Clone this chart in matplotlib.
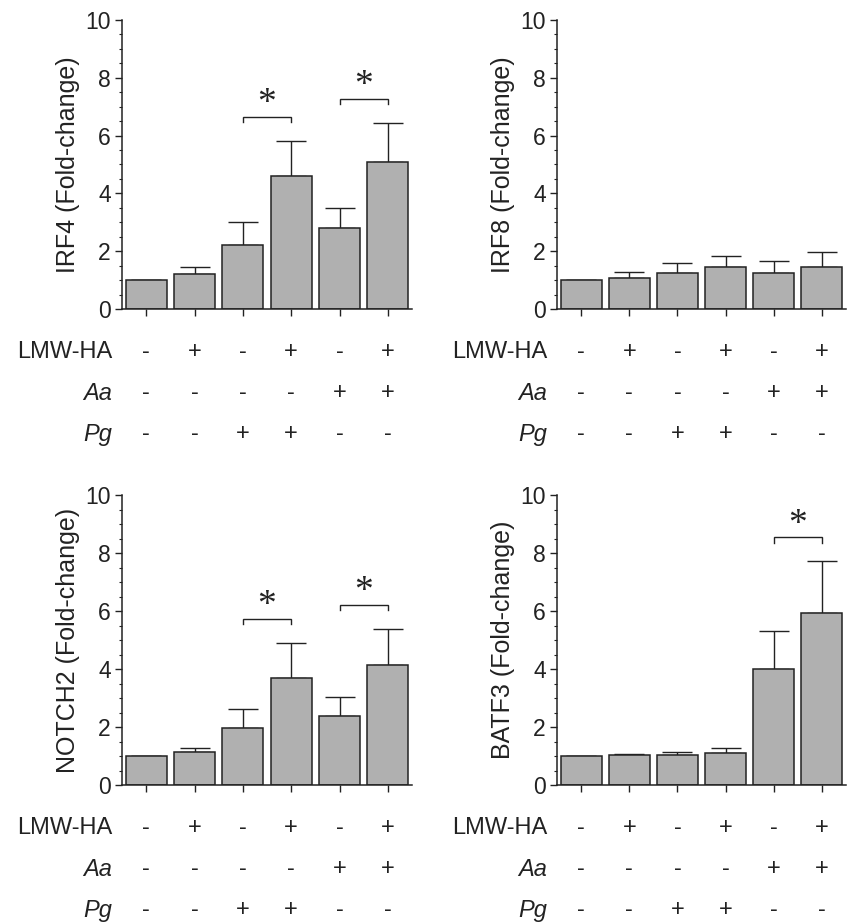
import numpy as np
import matplotlib
matplotlib.use("Agg")
import matplotlib.pyplot as plt
from matplotlib.ticker import MultipleLocator

plt.rcParams['font.family'] = ['Liberation Sans', 'DejaVu Sans']

# --- data ---
row_names = ['LMW-HA', 'Aa', 'Pg']
lmw_ha = ['-', '+', '-', '+', '-', '+']
aa = ['-', '-', '-', '-', '+', '+']
pg = ['-', '-', '+', '+', '-', '-']

irf4_mean = [1.0, 1.22, 2.22, 4.59, 2.79, 5.07]
irf4_err = [0.0, 0.25, 0.78, 1.21, 0.69, 1.36]
irf8_mean = [1.01, 1.08, 1.26, 1.44, 1.26, 1.47]
irf8_err = [0.0, 0.19, 0.34, 0.40, 0.39, 0.49]
notch2_mean = [1.0, 1.13, 1.97, 3.69, 2.38, 4.13]
notch2_err = [0.0, 0.13, 0.65, 1.21, 0.64, 1.25]
batf3_mean = [1.0, 1.03, 1.03, 1.10, 4.01, 5.94]
batf3_err = [0.0, 0.04, 0.11, 0.19, 1.31, 1.80]

# significance brackets: (bar a, bar b, bracket height)
irf4_sig = [(2, 3, 6.65), (4, 5, 7.28)]
irf8_sig = []
notch2_sig = [(2, 3, 5.74), (4, 5, 6.22)]
batf3_sig = [(4, 5, 8.54)]

panels = [
    ('IRF4 (Fold-change)', irf4_mean, irf4_err, irf4_sig),
    ('IRF8 (Fold-change)', irf8_mean, irf8_err, irf8_sig),
    ('NOTCH2 (Fold-change)', notch2_mean, notch2_err, notch2_sig),
    ('BATF3 (Fold-change)', batf3_mean, batf3_err, batf3_sig),
]

W, H = 847, 923
fig = plt.figure(figsize=(W / 100, H / 100), dpi=100)

# axes boxes in pixels: (left, top, right, bottom)
boxes = [(122, 20, 412, 309), (557, 20, 846, 309),
         (122, 495, 412, 785), (557, 495, 846, 785)]

ink = '#222222'
fill = '#b0b0b0'
x = np.arange(6)

for (label, mean, err, sig), (l, t, r, b) in zip(panels, boxes):
    ax = fig.add_axes([l / W, 1 - b / H, (r - l) / W, (b - t) / H])
    ax.bar(x, mean, width=0.85, color=fill, edgecolor=ink, linewidth=1.1, zorder=2)
    ax.errorbar(x, mean, yerr=[np.zeros(6), err], fmt='none', ecolor=ink,
                elinewidth=1.0, capsize=11, capthick=1.0, zorder=1)

    for a, c, h in sig:
        ax.plot([a, a, c, c], [h - 0.18, h, h, h - 0.18], color=ink, lw=1.0,
                solid_joinstyle='miter')
        ax.text((a + c) / 2, h + 0.45, '*', ha='center', va='center',
                fontsize=27, family='Liberation Serif', color=ink)

    ax.set_xlim(-0.5, 5.5)
    ax.set_ylim(0, 10)
    ax.spines['top'].set_visible(False)
    ax.spines['right'].set_visible(False)
    for s in ('left', 'bottom'):
        ax.spines[s].set_color(ink)
        ax.spines[s].set_linewidth(1.1)
    ax.yaxis.set_major_locator(MultipleLocator(2))
    ax.yaxis.set_minor_locator(MultipleLocator(0.5))
    ax.set_xticks(x)
    ax.set_xticklabels([])
    ax.tick_params(axis='y', which='major', length=5, width=1.0, color=ink,
                   labelsize=16.5, labelcolor=ink, pad=3)
    ax.tick_params(axis='y', which='minor', length=2.5, width=0.8, color=ink)
    ax.tick_params(axis='x', which='major', length=5, width=1.0, color=ink)
    ax.set_ylabel(label, fontsize=18, color=ink, labelpad=4)

    # treatment table under the axis
    for k, (name, signs) in enumerate(zip(row_names, [lmw_ha, aa, pg])):
        dy = -31 - 29.5 * k
        style = 'normal' if k == 0 else 'italic'
        ax.annotate(name, xy=(-0.5, 0), xycoords=('data', 'axes fraction'),
                    xytext=(-7, dy), textcoords='offset points', ha='right',
                    va='center', fontsize=17, style=style, color=ink,
                    annotation_clip=False)
        for i, sgn in enumerate(signs):
            ax.annotate(sgn, xy=(i, 0), xycoords=('data', 'axes fraction'),
                        xytext=(0, dy), textcoords='offset points', ha='center',
                        va='center', fontsize=17, color=ink,
                        annotation_clip=False)

fig.savefig('out.png', dpi=100)
